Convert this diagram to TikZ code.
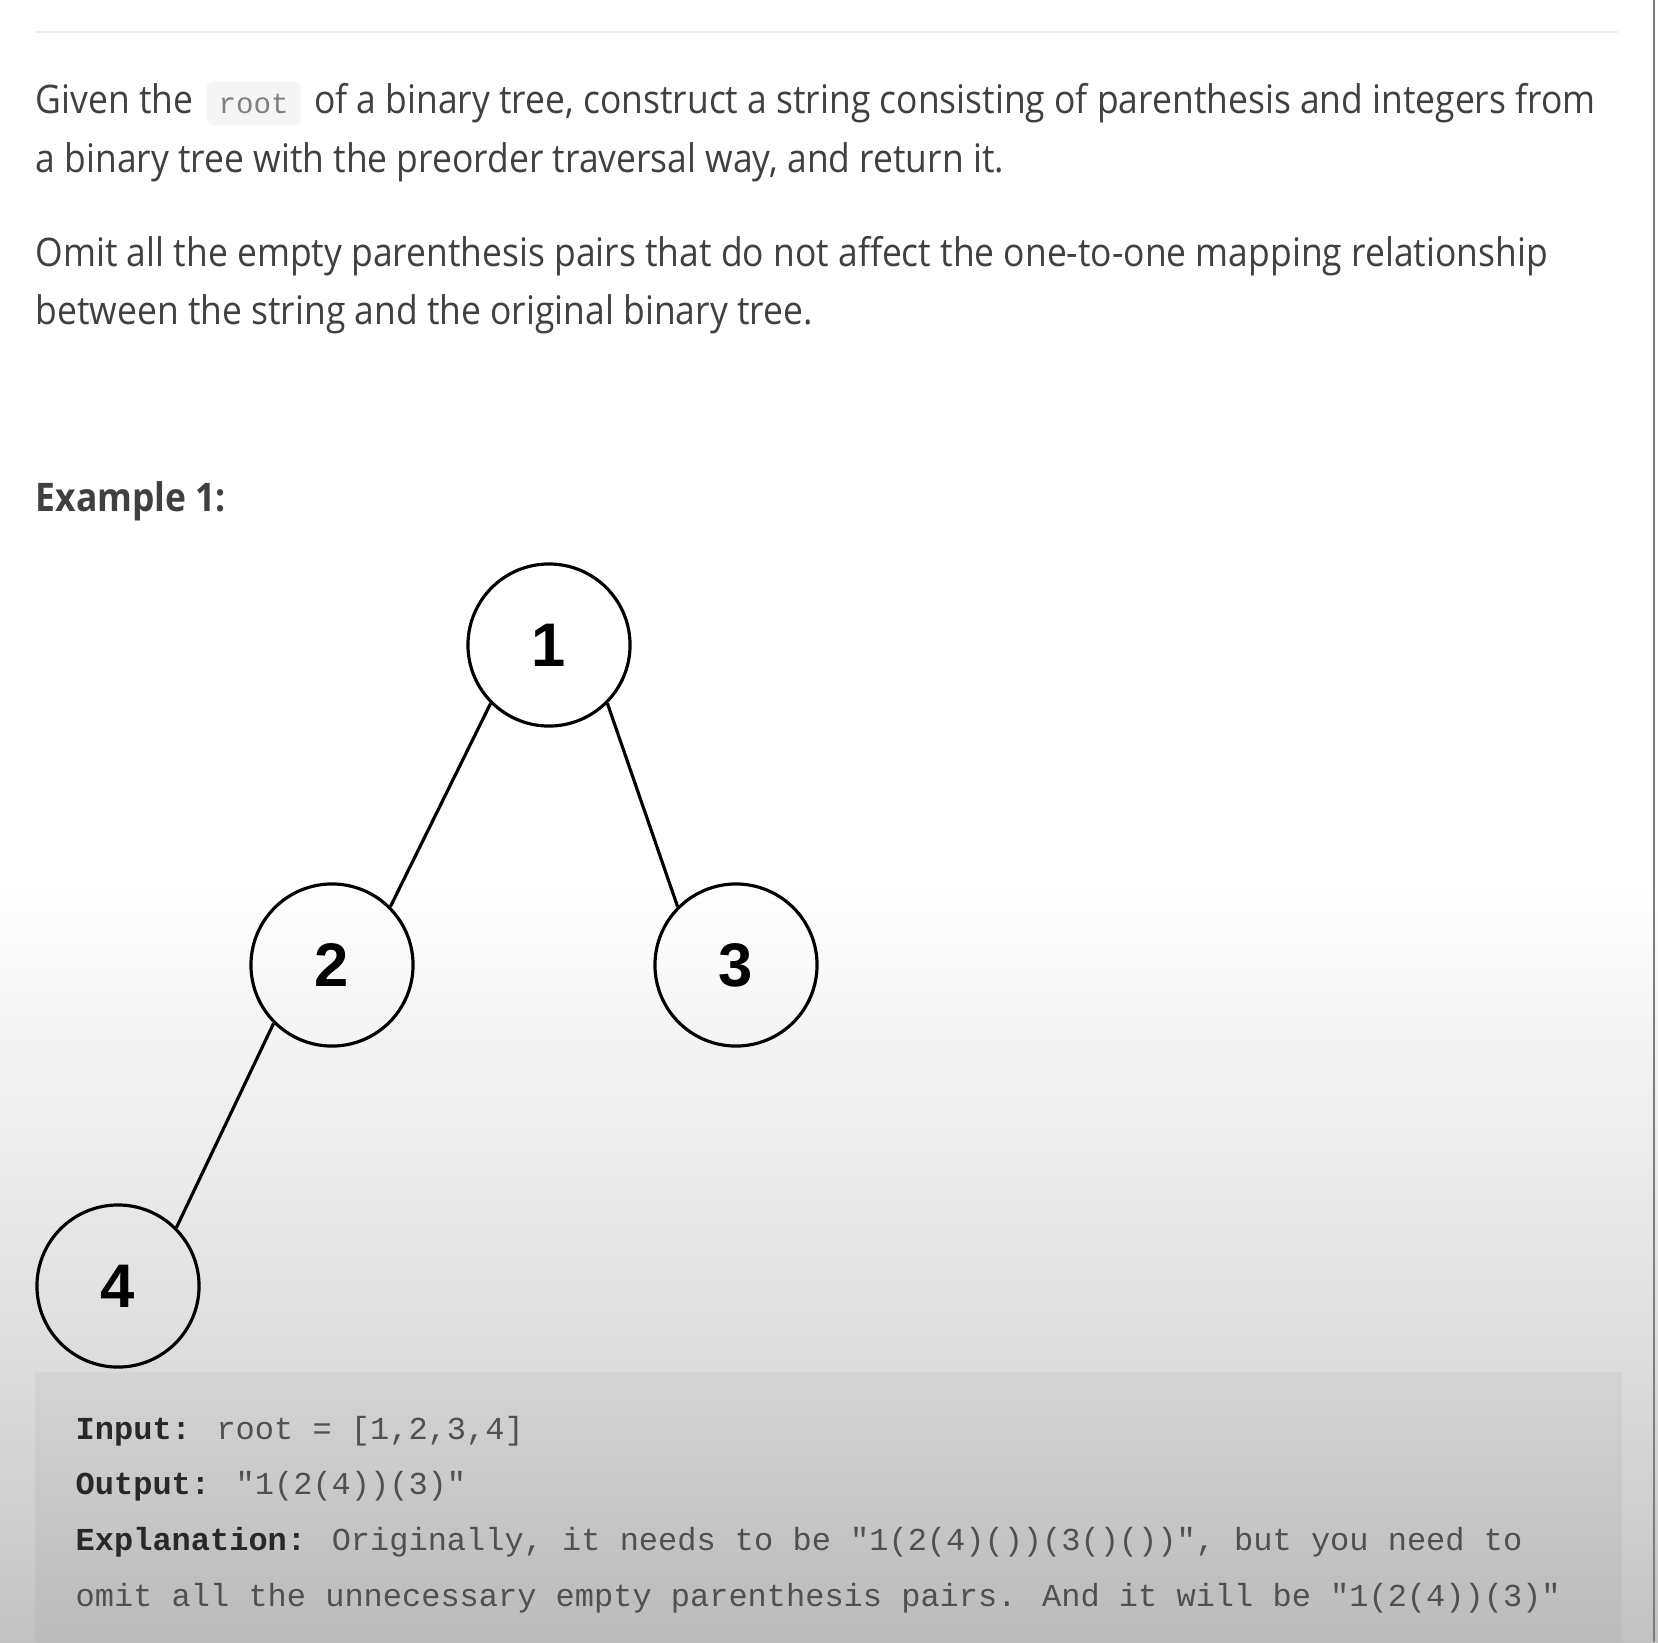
\documentclass[tikz,border=0pt]{standalone}
\usepackage{fontspec}
\setmainfont{Open Sans}[FakeStretch=0.9]
\newfontfamily\codefont{Liberation Mono}
\newfontfamily\digitfont{Liberation Sans}
\usetikzlibrary{positioning}

\definecolor{bodytext}{RGB}{64,64,64}
\definecolor{codetext}{RGB}{80,80,80}
\definecolor{labeltext}{RGB}{40,40,40}
\definecolor{rulegray}{RGB}{238,238,238}
\definecolor{spanfill}{RGB}{245,245,245}
\definecolor{fadegray}{RGB}{220,220,220}
\definecolor{deepgray}{RGB}{194,194,194}
\definecolor{bordergray}{RGB}{125,125,125}

\begin{document}
\begin{tikzpicture}[x=0.01cm, y=-0.01cm,
    vertex/.style={circle, draw, line width=0.9pt, minimum size=1.62cm, inner sep=0pt,
        font=\digitfont\bfseries\fontsize{17.5}{20}\selectfont},
    edge/.style={line width=0.9pt},
    para/.style={anchor=base west, inner sep=0pt, text=bodytext,
        font=\fontsize{11.2}{14}\selectfont},
    inlinecode/.style={fill=spanfill, rounded corners=2pt, inner xsep=0.12cm, inner ysep=0pt,
        minimum height=0.44cm, text=gray, font=\codefont\fontsize{8.3}{10}\selectfont},
    codeline/.style={anchor=base west, inner sep=0pt, text=codetext,
        font=\codefont\fontsize{9.1}{11}\selectfont}
]
\useasboundingbox (0,0) rectangle (1658,1642);

% page background
\fill[white] (0,0) rectangle (1658,1642);
\shade[top color=white, bottom color=fadegray] (0,880) rectangle (1658,1372);
\shade[top color=fadegray, bottom color=deepgray] (0,1372) rectangle (1658,1642);
\fill[black, opacity=0.035] (35,1372) rectangle (1622,1642);
\draw[rulegray, line width=0.6pt] (35,32) -- (1618,32);
\draw[bordergray, line width=0.6pt] (1654,0) -- (1654,1642);

% problem text
\node[para] (given) at (35,113) {Given the};
\node[inlinecode, base right=0.12cm of given] (root) {root};
\node[para, base right=0.12cm of root] (rest) {of a binary tree, construct a string consisting of parenthesis and integers from};
\node[para] (line2) at (35,172) {a binary tree with the preorder traversal way, and return it.};
\node[para] (omit1) at (35,266) {Omit all the empty parenthesis pairs that do not affect the one-to-one mapping relationship};
\node[para] (omit2) at (35,324) {between the string and the original binary tree.};
\node[para, font=\bfseries\fontsize{11.2}{14}\selectfont] (ex) at (35,511) {Example 1:};

% tree
\node[vertex] (1) at (549,645) {1};
\node[vertex] (2) at (332,965) {2};
\node[vertex] (3) at (736,965) {3};
\node[vertex] (4) at (118,1286) {4};

\draw[edge] (1.225) -- (2.45);
\draw[edge] (1.315) -- (3.135);
\draw[edge] (2.225) -- (4.45);

% example box
\node[codeline] (input) at (75,1439) {{\bfseries\color{labeltext}Input:} root = [1,2,3,4]};
\node[codeline] (output) at (75,1494) {{\bfseries\color{labeltext}Output:} "1(2(4))(3)"};
\node[codeline] (expl1) at (75,1550) {{\bfseries\color{labeltext}Explanation:} Originally, it needs to be "1(2(4)())(3()())", but you need to};
\node[codeline] (expl2) at (75,1606) {omit all the unnecessary empty parenthesis pairs. And it will be "1(2(4))(3)"};

\end{tikzpicture}
\end{document}
